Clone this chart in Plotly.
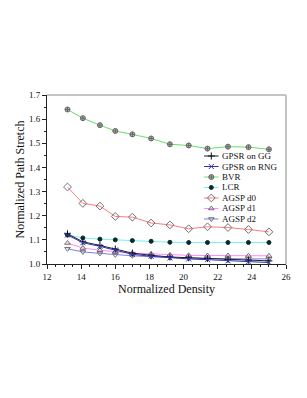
import plotly.graph_objects as go

density = [13.2, 14.1, 15.1, 16.0, 17.0, 18.1, 19.2, 20.3, 21.4, 22.6, 23.8, 25.0]
gpsr_gg = [1.125, 1.092, 1.077, 1.062, 1.045, 1.036, 1.029, 1.026, 1.023, 1.019, 1.016, 1.013]
gpsr_rng = [1.120, 1.088, 1.073, 1.058, 1.040, 1.032, 1.025, 1.021, 1.018, 1.013, 1.009, 1.006]
bvr = [1.640, 1.604, 1.575, 1.551, 1.537, 1.520, 1.496, 1.491, 1.478, 1.486, 1.484, 1.475]
lcr = [1.120, 1.108, 1.103, 1.100, 1.097, 1.094, 1.090, 1.089, 1.089, 1.089, 1.089, 1.089]
agsp_d0 = [1.319, 1.251, 1.240, 1.197, 1.194, 1.170, 1.162, 1.146, 1.154, 1.151, 1.143, 1.133]
agsp_d1 = [1.087, 1.066, 1.057, 1.051, 1.045, 1.042, 1.038, 1.036, 1.035, 1.035, 1.034, 1.034]
agsp_d2 = [1.063, 1.050, 1.044, 1.038, 1.034, 1.030, 1.027, 1.025, 1.023, 1.022, 1.022, 1.021]

names = ["GPSR on GG", "GPSR on RNG", "BVR", "LCR", "AGSP d0", "AGSP d1", "AGSP d2"]
series = [gpsr_gg, gpsr_rng, bvr, lcr, agsp_d0, agsp_d1, agsp_d2]

SERIF = "Liberation Serif, Times New Roman, Times, serif"

styles = [
    dict(line=dict(color="#222222", width=1),
         marker=dict(symbol="cross-thin-open", size=5, color="#111111", line=dict(width=1, color="#111111"))),
    dict(line=dict(color="#3030b0", width=1),
         marker=dict(symbol="x-thin-open", size=5, color="#3030b0", line=dict(width=1, color="#3030b0"))),
    dict(line=dict(color="#66e066", width=1),
         marker=dict(symbol="circle-cross", size=5, color="#b8b8b8", line=dict(width=1, color="#666666"))),
    dict(line=dict(color="#77f0f0", width=1),
         marker=dict(symbol="circle", size=4, color="#0a2a2a", line=dict(width=1, color="#0a2a2a"))),
    dict(line=dict(color="#ff7b7b", width=1),
         marker=dict(symbol="diamond-open", size=6, color="#707070", line=dict(width=1, color="#707070"))),
    dict(line=dict(color="#ff88ff", width=1),
         marker=dict(symbol="triangle-up-open", size=5, color="#707070", line=dict(width=1, color="#707070"))),
    dict(line=dict(color="#8080dd", width=1),
         marker=dict(symbol="triangle-down-open", size=5, color="#707070", line=dict(width=1, color="#707070"))),
]

fig = go.Figure()
order = [2, 3, 4, 5, 6, 0, 1]
for i in order:
    fig.add_trace(go.Scatter(x=density, y=series[i], mode="lines+markers", name=names[i],
                             showlegend=False, **styles[i]))

# compact legend drawn on an overlay 0..1 axis
leg_x0, leg_x1 = 0.657, 0.718
leg_y0, leg_dy = 0.639, 0.0621
for k, nm in enumerate(names):
    yy = leg_y0 - k * leg_dy
    st = styles[k]
    fig.add_trace(go.Scatter(x=[leg_x0, leg_x1], y=[yy, yy], mode="lines", line=st["line"],
                             xaxis="x2", yaxis="y2", showlegend=False, hoverinfo="skip"))
    fig.add_trace(go.Scatter(x=[(leg_x0 + leg_x1) / 2], y=[yy], mode="markers", marker=st["marker"],
                             xaxis="x2", yaxis="y2", showlegend=False, hoverinfo="skip"))
    fig.add_annotation(x=leg_x1 + 0.008, y=yy, xref="x2", yref="y2", text=nm, showarrow=False,
                       xanchor="left", yanchor="middle", borderpad=0,
                       font=dict(family=SERIF, size=9, color="#111111"))

fig.update_layout(
    width=307, height=398,
    margin=dict(l=30, r=29, t=87, b=142),
    paper_bgcolor="white", plot_bgcolor="white",
    font=dict(family=SERIF, color="#111111"),
    xaxis=dict(range=[12, 26], tickmode="linear", tick0=12, dtick=2,
               ticks="outside", ticklen=4, tickwidth=1, tickcolor="#222222",
               minor=dict(dtick=0.5, ticks="outside", ticklen=2, tickcolor="#222222"),
               showline=True, linecolor="#222222", linewidth=1, showgrid=False, zeroline=False,
               tickfont=dict(size=9, family=SERIF),
               title=dict(text="Normalized Density", font=dict(size=12, family=SERIF), standoff=2)),
    yaxis=dict(range=[1.0, 1.7], tickmode="linear", tick0=1.0, dtick=0.1, tickformat=".1f",
               ticks="outside", ticklen=4, tickwidth=1, tickcolor="#222222",
               minor=dict(dtick=0.05, ticks="outside", ticklen=2, tickcolor="#222222"),
               showline=True, linecolor="#222222", linewidth=1, showgrid=False, zeroline=False,
               tickfont=dict(size=9, family=SERIF),
               title=dict(text="Normalized Path Stretch", font=dict(size=12, family=SERIF), standoff=1)),
    xaxis2=dict(range=[0, 1], overlaying="x", visible=False, fixedrange=True),
    yaxis2=dict(range=[0, 1], overlaying="y", visible=False, fixedrange=True),
    shapes=[
        dict(type="line", xref="paper", yref="paper", x0=0, x1=1, y0=1, y1=1,
             line=dict(color="#c4c4c4", width=2)),
        dict(type="line", xref="paper", yref="paper", x0=1, x1=1, y0=0, y1=1,
             line=dict(color="#c4c4c4", width=2)),
    ],
)

fig.write_html("out.html")
